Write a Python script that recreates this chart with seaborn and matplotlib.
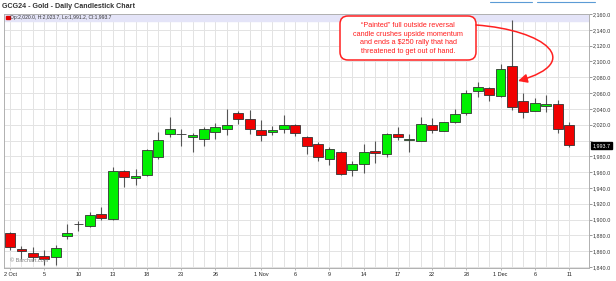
import matplotlib
matplotlib.use("Agg")
import matplotlib.pyplot as plt
import seaborn as sns
import numpy as np
import pandas as pd
from matplotlib.patches import FancyBboxPatch, FancyArrowPatch, Rectangle
from matplotlib.path import Path
from matplotlib.lines import Line2D
from matplotlib.transforms import blended_transform_factory

# ---------------- data ----------------
dates = ["2 Oct", "3 Oct", "4 Oct", "5 Oct", "6 Oct", "9 Oct", "10 Oct", "11 Oct", "12 Oct", "13 Oct",
         "16 Oct", "17 Oct", "18 Oct", "19 Oct", "20 Oct", "23 Oct", "24 Oct", "25 Oct", "26 Oct", "27 Oct",
         "30 Oct", "31 Oct", "1 Nov", "2 Nov", "3 Nov", "6 Nov", "7 Nov", "8 Nov", "9 Nov", "10 Nov",
         "13 Nov", "14 Nov", "15 Nov", "16 Nov", "17 Nov", "20 Nov", "21 Nov", "22 Nov", "24 Nov", "27 Nov",
         "28 Nov", "29 Nov", "30 Nov", "1 Dec", "4 Dec", "5 Dec", "6 Dec", "7 Dec", "8 Dec", "11 Dec"]
opens = [1883, 1863, 1858, 1854.5, 1852.5, 1879.5, 1894, 1892, 1907, 1901,
         1961.5, 1952, 1956, 1979.5, 2008, 2008, 2004.5, 2002.5, 2011, 2015,
         2034.5, 2027, 2013.5, 2011, 2014, 2020, 2005, 1995.5, 1976, 1985.5,
         1962.5, 1970, 1987, 1983.5, 2008, 2001, 2000, 2020, 2012.5, 2023.5,
         2034.5, 2063, 2066, 2056.5, 2094.5, 2049.5, 2037.5, 2044, 2046, 2020.0]
highs = [1884, 1867, 1865, 1862, 1867.5, 1895, 1898.5, 1910, 1916, 1966,
         1963, 1964, 1989, 2010.5, 2029.5, 2015, 2009.5, 2017, 2022, 2039.5,
         2037.5, 2039, 2026, 2018, 2032.5, 2021, 2006, 1998, 1992, 1986.5,
         1974.5, 1995.5, 1999, 2010, 2017, 2008.5, 2029.5, 2028.5, 2024, 2039.5,
         2064, 2074, 2068, 2096.5, 2152.5, 2060, 2053.5, 2057.5, 2051.5, 2023.7]
lows = [1862, 1850, 1847, 1843, 1842, 1875.5, 1885, 1891, 1899, 1900,
        1941, 1944, 1955, 1977, 2004, 1992.5, 1985, 1993, 2002, 2007,
        2020.5, 2008.5, 1999, 2007, 2009.5, 2006, 1983, 1973.5, 1968.5, 1956,
        1955.5, 1959, 1971.5, 1979, 2001, 1986, 1999, 2009.5, 2012, 2022,
        2032.5, 2055.5, 2050.5, 2055.5, 2039, 2028.5, 2037, 2036.5, 2010, 1991.2]
closes = [1865, 1860, 1853, 1849.5, 1864, 1882.5, 1895, 1906, 1902.5, 1961,
          1954, 1955, 1988, 2000.5, 2014.5, 2008.5, 2006.5, 2015, 2017.5, 2019.5,
          2027, 2014.5, 2007.5, 2013, 2020, 2009, 1993.5, 1979, 1989.5, 1957,
          1970, 1986, 1984.5, 2008, 2005, 2001.5, 2021.5, 2013.5, 2023.5, 2033.5,
          2060.5, 2067.5, 2057.5, 2090, 2042, 2036.5, 2047, 2046.5, 2014.5, 1993.7]

tick_dates = ["2 Oct", "5 Oct", "10 Oct", "13 Oct", "18 Oct", "23 Oct", "26 Oct", "1 Nov", "6 Nov",
              "9 Nov", "14 Nov", "17 Nov", "22 Nov", "28 Nov", "1 Dec", "6 Dec", "11 Dec"]
tick_labels = ["2 Oct", "5", "10", "13", "18", "23", "26", "1 Nov", "6",
               "9", "14", "17", "22", "28", "1 Dec", "6", "11"]
y_ticks = list(range(1840, 2161, 20))

title = "GCG24 - Gold - Daily Candlestick Chart"
legend_text = "Op:2,020.0, H:2,023.7, Lo:1,991.2, Cl:1,993.7"
last_price = 1993.7
note = ("\u201cPainted\u201d full outside reversal\ncandle crushes upside momentum\n"
        "and ends a $250 rally that had\nthreatened to get out of hand.")

df = pd.DataFrame(dict(date=dates, open=opens, high=highs, low=lows, close=closes))
df["x"] = np.arange(len(df))
df["up"] = df["close"] >= df["open"]
df["bottom"] = df[["open", "close"]].min(axis=1)
df["height"] = (df["close"] - df["open"]).abs().clip(lower=0.5)

# ---------------- style ----------------
sns.set_theme(style="white")
plt.rcParams["font.family"] = ["Liberation Sans", "DejaVu Sans"]

W, H = 616, 281
fig = plt.figure(figsize=(W / 100, H / 100), dpi=100)
fig.patch.set_facecolor("white")
L, R, T, B = 4, 589, 14, 268
ax = fig.add_axes([L / W, (H - B) / H, (R - L) / W, (B - T) / H])
ax.set_facecolor("white")

GREEN = "#00f000"
RED = "#f00000"

# wicks and bodies
ax.vlines(df["x"], df["low"], df["high"], color="#555555", lw=0.8, zorder=2)
ax.bar(df["x"], df["height"], bottom=df["bottom"], width=0.86,
       color=[GREEN if u else RED for u in df["up"]],
       edgecolor="#333333", linewidth=0.6, zorder=3)

# axes ranges
ax.set_xlim(-0.53, 50.75)
ax.set_ylim(1840 - 1 / 0.792, 2160)

# top legend band
ax.axhspan(2151, 2160, color="#e4e4f8", zorder=1)

# ticks
pos = {d: i for i, d in enumerate(dates)}
ax.set_xticks([pos[d] for d in tick_dates])
ax.set_xticklabels(tick_labels)
ax.set_xticks(df["x"], minor=True)
ax.yaxis.tick_right()
ax.set_yticks(y_ticks)
ax.set_yticklabels(["" if v == 2000 else f"{v:,.1f}" for v in y_ticks])
ax.tick_params(axis="y", which="major", right=True, left=False, labelsize=3.9,
               length=2.2, width=0.6, color="#888888", pad=0.6, labelcolor="#333333")
ax.tick_params(axis="x", which="major", bottom=True, labelsize=4.0, length=1.5,
               width=0.5, color="#999999", pad=1.2, labelcolor="#222222")
ax.tick_params(axis="x", which="minor", bottom=False)

ax.grid(True, axis="x", which="both", color="#e3e3e3", lw=0.7)
ax.grid(True, axis="y", which="major", color="#e3e3e3", lw=0.7)
ax.set_axisbelow(True)
for s in ax.spines.values():
    s.set_color("#b0b0b0")
    s.set_linewidth(0.7)

# legend strip content
ax.add_patch(Rectangle(((6 - L) / (R - L), (B - 19) / (B - T)), 3.5 / (R - L), 3.5 / (B - T),
                       transform=ax.transAxes, color="#e00000", zorder=4))
ax.text((10.5 - L) / (R - L), (B - 17.3) / (B - T), legend_text, transform=ax.transAxes,
        fontsize=3.6, color="#333333", va="center", ha="left", zorder=4)

# watermark
ax.text((10 - L) / (R - L), (B - 261) / (B - T), "\u00a9 Barchart.com", transform=ax.transAxes,
        fontsize=4.0, color="#808080", va="center", ha="left", zorder=4)

# last price tag
bt = blended_transform_factory(ax.transAxes, ax.transData)
ax.text(1 + 3.5 / (R - L), last_price, f"{last_price:,.1f}", transform=bt, fontsize=3.9,
        color="white", va="center", ha="left", clip_on=False,
        bbox=dict(boxstyle="square,pad=0.25", fc="black", ec="black"))

# title
fig.text(2.5 / W, 1 - 6.5 / H, title, fontsize=5.1, fontweight="bold", color="#333333",
         va="center", ha="left")

# UI lines at top right
fig.add_artist(Line2D([490 / W, 532 / W], [1 - 1.5 / H] * 2, color="#5b9bd5", lw=0.8))
fig.add_artist(Line2D([537 / W, 595 / W], [1 - 1.5 / H] * 2, color="#5b9bd5", lw=0.8))

# annotation box (coordinates in inches from bottom-left)
box = FancyBboxPatch((3.40, (H - 60) / 100), 1.36, 0.44,
                     boxstyle="round,pad=0,rounding_size=0.08",
                     transform=fig.dpi_scale_trans, fc="white", ec="#ff2020", lw=1.1)
fig.add_artist(box)
fig.text(408 / W, 1 - 38.5 / H, note, fontsize=5.2, color="#ff2020", ha="center", va="center",
         linespacing=1.35)

verts = [(4.76, (H - 25) / 100), (5.45, (H - 30) / 100), (5.85, (H - 62) / 100), (5.18, (H - 81) / 100)]
arrow = FancyArrowPatch(path=Path(verts, [Path.MOVETO, Path.CURVE4, Path.CURVE4, Path.CURVE4]),
                        arrowstyle="-|>,head_length=0.45,head_width=0.22", mutation_scale=12,
                        transform=fig.dpi_scale_trans, color="#ff2020", lw=1.1)
fig.add_artist(arrow)

fig.savefig("out.png", dpi=100, facecolor="white")
